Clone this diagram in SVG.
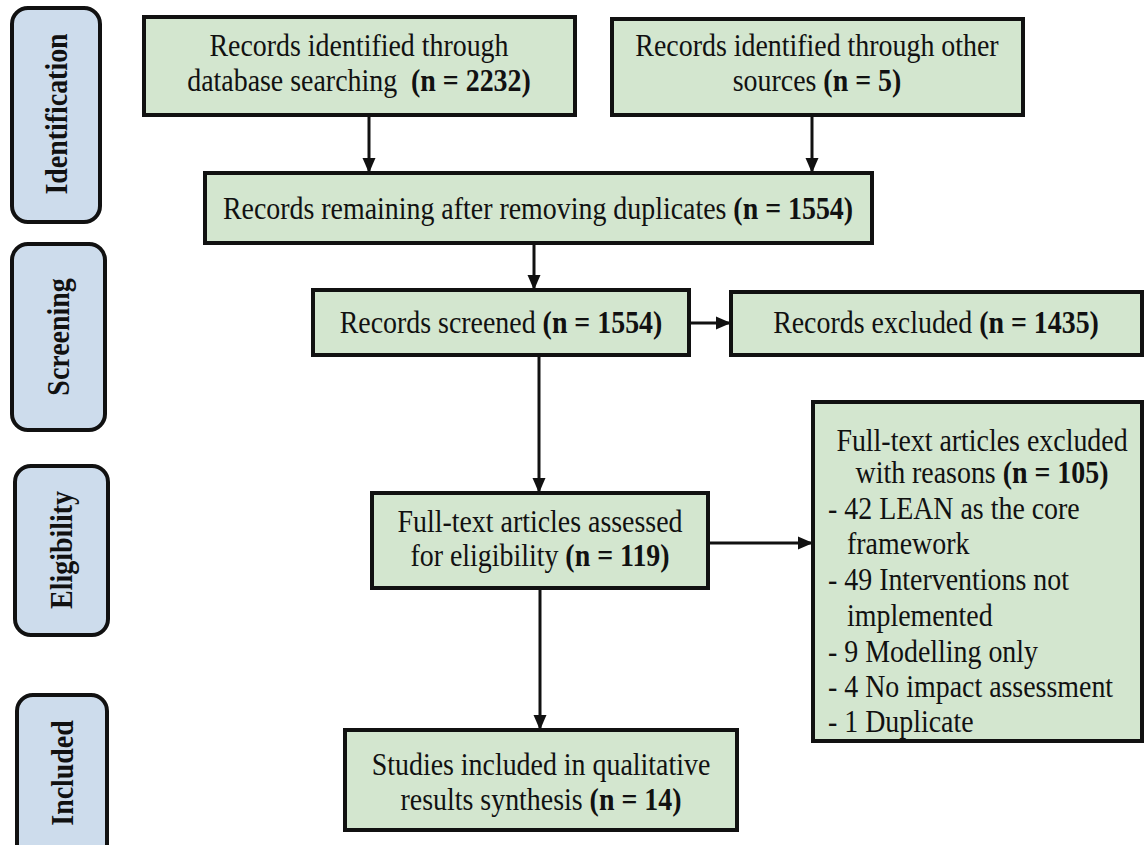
<svg xmlns="http://www.w3.org/2000/svg" width="1147" height="845" viewBox="0 0 1147 845">
<style>
.box{fill:#d3e6cf;stroke:#111;stroke-width:4}
.pill{fill:#cddcec;stroke:#111;stroke-width:4}
.t{font-family:"Liberation Serif","Times New Roman",serif;font-size:31px;fill:#111}
.c{text-anchor:middle}
.b{font-weight:bold}
.lab{font-family:"Liberation Serif","Times New Roman",serif;font-size:31px;font-weight:bold;fill:#111;text-anchor:middle}
.ln{stroke:#111;stroke-width:3;fill:none}
</style>
<defs>
<marker id="ah" markerUnits="userSpaceOnUse" markerWidth="15" markerHeight="15" viewBox="0 0 15 15" refX="15" refY="7.5" orient="auto">
<path d="M0,1 L15,7.5 L0,14 Z" fill="#111"/>
</marker>
</defs>
<rect width="1147" height="845" fill="#fff"/>
<g id="stage-identification"><rect class="pill" x="12" y="8" width="88" height="214" rx="16"/><text class="lab" transform="translate(67,114) rotate(-90) scale(0.9,1)">Identification</text></g>
<g id="stage-screening"><rect class="pill" x="12" y="244" width="93" height="186" rx="16"/><text class="lab" transform="translate(69,337) rotate(-90) scale(0.9,1)">Screening</text></g>
<g id="stage-eligibility"><rect class="pill" x="15" y="466" width="93" height="169" rx="16"/><text class="lab" transform="translate(72,550) rotate(-90) scale(0.9,1)">Eligibility</text></g>
<g id="stage-included"><rect class="pill" x="17" y="695" width="90" height="165" rx="16"/><text class="lab" transform="translate(73,773) rotate(-90) scale(0.9,1)">Included</text></g>

<g id="connectors">
<line class="ln" x1="369" y1="115" x2="369" y2="173" marker-end="url(#ah)"/>
<line class="ln" x1="812" y1="115" x2="812" y2="173" marker-end="url(#ah)"/>
<line class="ln" x1="534" y1="243" x2="534" y2="290" marker-end="url(#ah)"/>
<line class="ln" x1="689" y1="323" x2="731" y2="323" marker-end="url(#ah)"/>
<line class="ln" x1="539" y1="355" x2="539" y2="493" marker-end="url(#ah)"/>
<line class="ln" x1="708" y1="543" x2="813" y2="543" marker-end="url(#ah)"/>
<line class="ln" x1="540" y1="588" x2="540" y2="730" marker-end="url(#ah)"/>
</g>

<g id="n-db"><rect class="box" x="144" y="17" width="431" height="98"/>
<text class="t c" transform="translate(359,56) scale(0.9,1)">Records identified through</text>
<text class="t c" transform="translate(359,91) scale(0.9,1)">database searching&#160; <tspan class="b">(n = 2232)</tspan></text></g>
<g id="n-other"><rect class="box" x="612" y="19" width="411" height="96"/>
<text class="t c" transform="translate(817,56) scale(0.9,1)">Records identified through other</text>
<text class="t c" transform="translate(817,91) scale(0.9,1)">sources <tspan class="b">(n = 5)</tspan></text></g>
<g id="n-dup"><rect class="box" x="205" y="173" width="667" height="70"/>
<text class="t c" transform="translate(538,219) scale(0.9,1)">Records remaining after removing duplicates <tspan class="b">(n = 1554)</tspan></text></g>
<g id="n-screened"><rect class="box" x="313" y="290" width="376" height="65"/>
<text class="t c" transform="translate(501,333) scale(0.9,1)">Records screened <tspan class="b">(n = 1554)</tspan></text></g>
<g id="n-excluded"><rect class="box" x="731" y="292" width="411" height="63"/>
<text class="t c" transform="translate(936,333) scale(0.9,1)">Records excluded <tspan class="b">(n = 1435)</tspan></text></g>
<g id="n-fulltext"><rect class="box" x="372" y="493" width="336" height="95"/>
<text class="t c" transform="translate(540,532) scale(0.9,1)">Full-text articles assessed</text>
<text class="t c" transform="translate(540,566) scale(0.9,1)">for eligibility <tspan class="b">(n = 119)</tspan></text></g>
<g id="n-ftexcl"><rect class="box" x="813" y="402" width="329" height="339"/>
<text class="t c" transform="translate(982,451) scale(0.9,1)">Full-text articles excluded</text>
<text class="t c" transform="translate(982,483) scale(0.9,1)">with reasons <tspan class="b">(n = 105)</tspan></text>
<text class="t" transform="translate(828,519) scale(0.9,1)">- 42 LEAN as the core</text>
<text class="t" transform="translate(847,554) scale(0.9,1)">framework</text>
<text class="t" transform="translate(828,590) scale(0.9,1)">- 49 Interventions not</text>
<text class="t" transform="translate(847,626) scale(0.9,1)">implemented</text>
<text class="t" transform="translate(828,662) scale(0.9,1)">- 9 Modelling only</text>
<text class="t" transform="translate(828,697) scale(0.9,1)">- 4 No impact assessment</text>
<text class="t" transform="translate(828,732) scale(0.9,1)">- 1 Duplicate</text></g>
<g id="n-included"><rect class="box" x="345" y="730" width="392" height="100"/>
<text class="t c" transform="translate(541,775) scale(0.9,1)">Studies included in qualitative</text>
<text class="t c" transform="translate(541,810) scale(0.9,1)">results synthesis <tspan class="b">(n = 14)</tspan></text></g>
</svg>
